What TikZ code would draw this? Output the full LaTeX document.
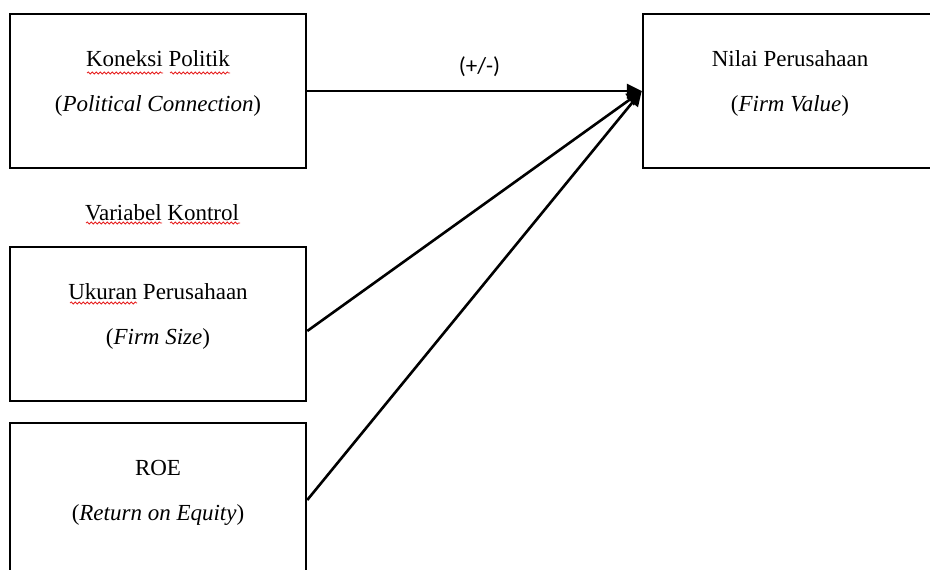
\documentclass[tikz,border=0pt]{standalone}
\usepackage{fontspec}
\setmainfont{Liberation Serif}
\newfontfamily\calibri{Carlito}
\usetikzlibrary{positioning,arrows.meta,decorations.pathmorphing}

\definecolor{merahsalah}{RGB}{230,30,30}
\tikzset{
  kotak/.style={draw, line width=2.5pt, minimum width=296pt, minimum height=154pt, inner sep=0pt},
  isi/.style={align=center, font=\fontsize{23}{45}\selectfont},
  panah/.style={line width=2.6pt, -{Triangle[length=15pt,width=14pt]}},
  salah/.style={draw=merahsalah, line width=0.8pt, decorate,
    decoration={snake, amplitude=1pt, segment length=4pt}}
}

\begin{document}
\begin{tikzpicture}[x=1pt, y=-1pt]
  \useasboundingbox (0,0) rectangle (930,570);
  \clip (0,0) rectangle (930,570);

  % kotak
  \node[kotak] (politik) at (158,91) {};
  \node[kotak] (nilai) at (791,91) {};
  \node[kotak] (ukuran) at (158,324) {};
  \node[kotak] (roe) at (158,500) {};

  % isi kotak
  \node[isi] (tpolitik) at ([yshift=7.5pt]politik.center) {Koneksi Politik\\(\textit{Political Connection})};
  \node[isi] (tnilai) at ([yshift=7.5pt, xshift=-1pt]nilai.center) {Nilai Perusahaan\\(\textit{Firm Value})};
  \node[isi] (tukuran) at ([yshift=7.5pt]ukuran.center) {Ukuran Perusahaan\\(\textit{Firm Size})};
  \node[isi] (troe) at ([yshift=7.5pt]roe.center) {ROE\\(\textit{Return on Equity})};

  \node[isi] (kontrol) at (162,213) {Variabel Kontrol};

  % garis merah bergelombang
  \draw[salah] (87,73) -- (163,73);
  \draw[salah] (170,73) -- (230,73);
  \draw[salah] (86,223) -- (162,223);
  \draw[salah] (170,223) -- (240,223);
  \draw[salah] (70,303) -- (137,303);

  % panah
  \draw[panah] (politik.east) -- node[midway, yshift=24pt, xshift=5pt, font=\calibri\fontsize{23}{27}\selectfont] (tanda) {(+/-)} (nilai.west);
  \draw[panah] ([yshift=-7pt]ukuran.east) -- (nilai.west);
  \draw[panah] (roe.east) -- (nilai.west);
\end{tikzpicture}
\end{document}
